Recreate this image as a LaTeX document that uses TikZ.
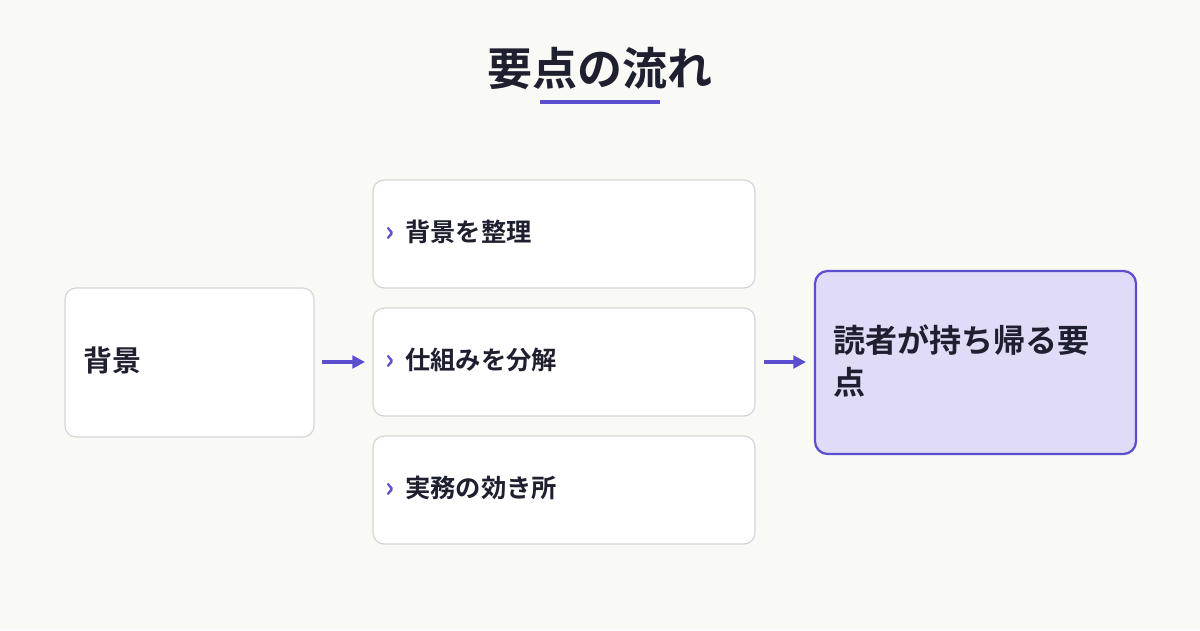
\documentclass[tikz,border=0pt]{standalone}
\usepackage{fontspec}
\setmainfont{Noto Sans CJK JP}[BoldFont={* Bold}]
\usetikzlibrary{arrows.meta}
\definecolor{bgc}{HTML}{F9F9F6}
\definecolor{ink}{HTML}{1E2030}
\definecolor{accent}{HTML}{5B4FCF}
\definecolor{edgec}{HTML}{D6D6DA}
\definecolor{hl}{HTML}{E0DCF8}
\tikzset{
  card/.style={draw=edgec, line width=0.9pt, fill=white, rounded corners=8pt},
  keycard/.style={draw=accent, line width=1.6pt, fill=hl, rounded corners=9pt},
  lbl/.style={font=\bfseries\fontsize{20.6pt}{24pt}\selectfont, text=ink, anchor=west, inner sep=0pt},
  item/.style={font=\bfseries\fontsize{18pt}{22pt}\selectfont, text=ink, anchor=west, inner sep=0pt},
  flow/.style={-{Triangle[length=9pt,width=9pt]}, accent, line width=2.2pt}
}
\begin{document}
\begin{tikzpicture}[x=0.025cm,y=-0.025cm]
\fill[bgc] (0,0) rectangle (1200,630);
\useasboundingbox (0,0) rectangle (1200,630);
% title
\node[font=\bfseries\fontsize{32pt}{36pt}\selectfont, text=ink] (title) at (600,68) {要点の流れ};
\draw[accent, line width=2.2pt] (540,102) -- (660,102);
% left
\draw[card] (65,288) rectangle (314,437);
\node[lbl] (bg) at (83,360) {背景};
% middle
\draw[card] (373,180) rectangle (755,288);
\draw[card] (373,308) rectangle (755,416);
\draw[card] (373,436) rectangle (755,544);
\foreach \y/\t/\n in {232/背景を整理/a, 360/仕組みを分解/b, 488/実務の効き所/c}{
  \node[font=\bfseries\fontsize{20pt}{20pt}\selectfont, text=accent, inner sep=0pt] (m\n) at (390,\y+2) {›};
  \node[item] (t\n) at (405,\y) {\t};
}
% right
\node[lbl, font=\bfseries\fontsize{22.8pt}{30pt}\selectfont, align=left, anchor=west] (key) at (833,361) {読者が持ち帰る要\\点};
\draw[keycard] (815,271) rectangle (1136,454);
\node[lbl, font=\bfseries\fontsize{22.8pt}{30pt}\selectfont, align=left, anchor=west] at (833,361) {読者が持ち帰る要\\点};
% arrows
\coordinate (a1) at (322,362); \coordinate (a2) at (365,362);
\coordinate (b1) at (764,362); \coordinate (b2) at (806,362);
\draw[flow] (a1) -- (a2);
\draw[flow] (b1) -- (b2);
\end{tikzpicture}
\end{document}
